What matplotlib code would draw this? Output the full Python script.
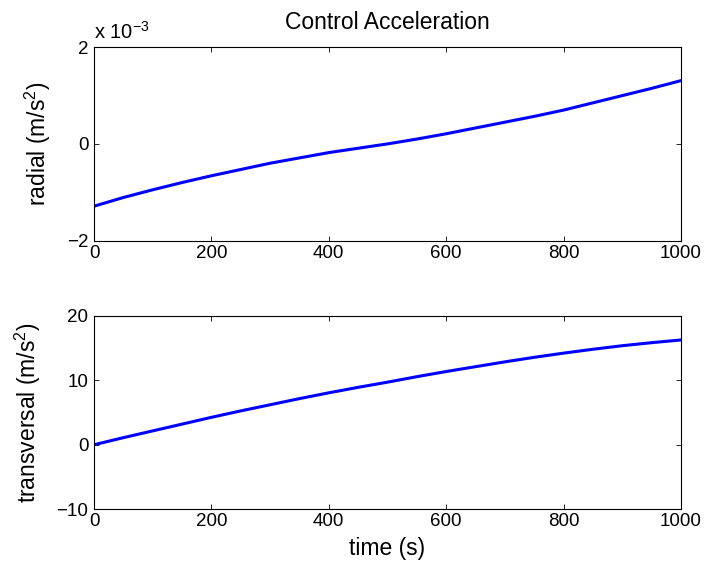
import matplotlib
matplotlib.use('Agg')
import matplotlib.pyplot as plt

# Data
time = [0, 50, 100, 150, 200, 250, 300, 350, 400, 450, 500,
        550, 600, 650, 700, 750, 800, 850, 900, 950, 1000]
radial_e3 = [-1.29, -1.11, -0.95, -0.80, -0.66, -0.53, -0.40, -0.29, -0.18, -0.09, 0.0,
             0.10, 0.21, 0.33, 0.45, 0.57, 0.70, 0.85, 1.00, 1.15, 1.31]
transversal = [0.0, 1.1, 2.15, 3.2, 4.25, 5.25, 6.2, 7.15, 8.05, 8.9, 9.7,
               10.55, 11.35, 12.1, 12.85, 13.55, 14.2, 14.8, 15.35, 15.82, 16.24]

plt.rcParams['font.family'] = ['Liberation Sans', 'DejaVu Sans']
plt.rcParams['mathtext.fontset'] = 'custom'
plt.rcParams['mathtext.rm'] = 'Liberation Sans'
plt.rcParams['mathtext.it'] = 'Liberation Sans:italic'
plt.rcParams['font.size'] = 13.5

fig = plt.figure(figsize=(7.13, 5.74), dpi=100)
W, H = 713, 574
ax1 = fig.add_axes([94 / W, 1 - 240.5 / H, (681 - 94) / W, (240.5 - 47.3) / H])
ax2 = fig.add_axes([94 / W, 1 - 509.3 / H, (681 - 94) / W, (509.3 - 315.7) / H])

radial = [v * 1e-3 for v in radial_e3]
ax1.plot(time, radial, color='blue', lw=2.2)
ax1.set_xlim(0, 1000)
ax1.set_ylim(-2e-3, 2e-3)
ax1.set_yticks([-2e-3, 0, 2e-3])
ax1.set_yticklabels(['\u22122', '0', '2'])
ax1.set_ylabel('radial (m/s$^2$)', fontsize=16.5)
ax1.yaxis.set_label_coords((53 - 94) / 587, 0.5)
ax1.set_title('Control Acceleration', fontsize=16.5, pad=13)
ax1.text(0.0, 1 + 8.8 / 193, 'x 10$^{\u22123}$', transform=ax1.transAxes,
         ha='left', va='baseline', fontsize=14.5)

ax2.plot(time, transversal, color='blue', lw=2.2)
ax2.set_xlim(0, 1000)
ax2.set_ylim(-10, 20)
ax2.set_yticks([-10, 0, 10, 20])
ax2.set_yticklabels(['\u221210', '0', '10', '20'])
ax2.set_ylabel('transversal (m/s$^2$)', fontsize=16.5)
ax2.yaxis.set_label_coords((43 - 94) / 587, 0.5)
ax2.set_xlabel('time (s)', fontsize=16.5, labelpad=5)

for ax in (ax1, ax2):
    ax.set_xticks([0, 200, 400, 600, 800, 1000])
    ax.tick_params(direction='in', top=True, right=True, length=3.6, width=0.6)
    ax.tick_params(axis='x', pad=3)
    ax.tick_params(axis='y', pad=4)
    for s in ax.spines.values():
        s.set_linewidth(0.8)

fig.savefig('out.png', dpi=100)
